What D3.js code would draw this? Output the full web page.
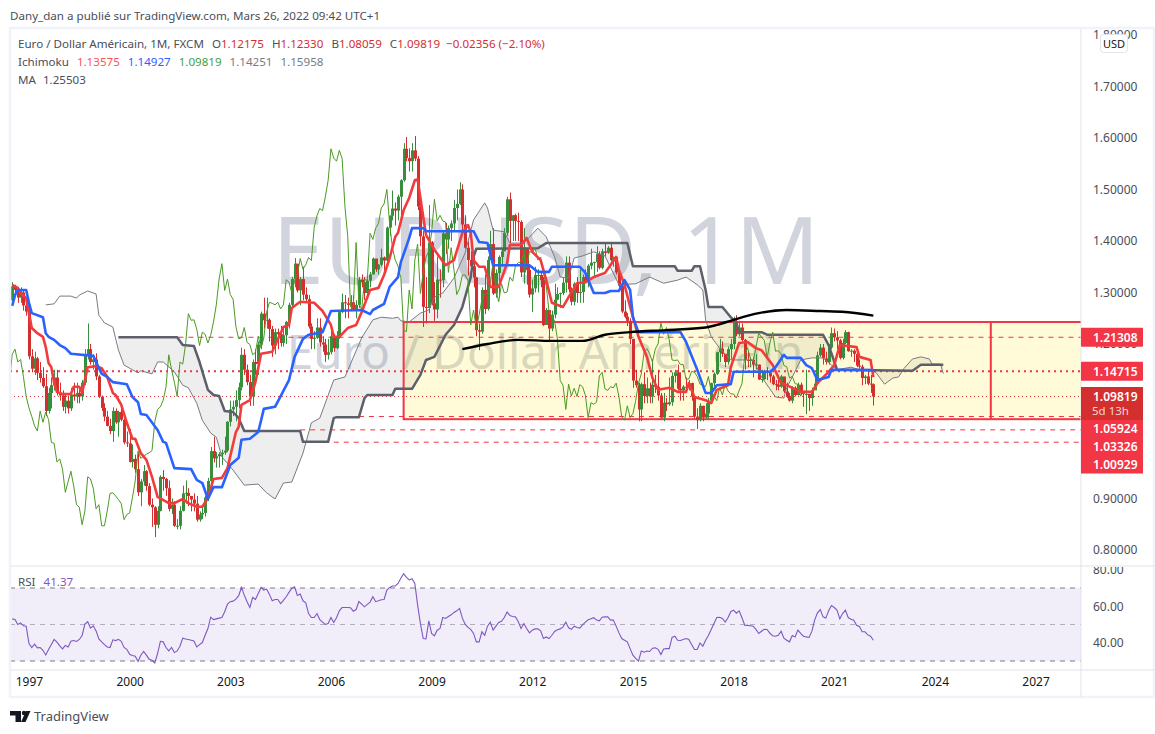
<!DOCTYPE html>
<html>
<head>
<meta charset="utf-8">
<style>
html,body{margin:0;padding:0;background:#fff}
svg{display:block}
text{font-family:"Noto Sans",sans-serif}
</style>
<script src="https://cdn.jsdelivr.net/npm/d3@7/dist/d3.min.js"></script>
</head>
<body>
<svg id="chart" width="1155" height="734"></svg>
<script>
// monthly bars, Jul 1996 -> Mar 2022, month index 0 = Jul 1996
const closes = [
1.312,1.305,1.290,1.300,1.275,1.263,
1.176,1.152,1.172,1.144,1.134,1.118,1.070,1.105,1.120,1.135,1.105,1.100,
1.078,1.090,1.075,1.102,1.098,1.105,1.098,1.125,1.180,1.190,1.165,1.170,
1.137,1.098,1.076,1.059,1.041,1.031,1.070,1.048,1.068,1.053,1.009,1.007,
.971,.977,.957,.912,.933,.953,.924,.888,.883,.849,.876,.942,
.938,.920,.880,.888,.847,.847,.876,.910,.911,.905,.898,.890,
.859,.869,.872,.902,.934,.992,.978,.982,.986,.989,.993,1.049,
1.073,1.078,1.091,1.116,1.179,1.150,1.126,1.098,1.165,1.161,1.199,1.259,
1.246,1.247,1.229,1.197,1.223,1.219,1.202,1.217,1.243,1.276,1.326,1.356,
1.304,1.326,1.296,1.287,1.234,1.210,1.212,1.232,1.203,1.199,1.179,1.184,
1.215,1.192,1.212,1.262,1.281,1.279,1.276,1.281,1.268,1.276,1.325,1.320,
1.299,1.323,1.335,1.366,1.345,1.354,1.368,1.362,1.426,1.449,1.463,1.459,
1.486,1.518,1.579,1.561,1.555,1.576,1.560,1.467,1.409,1.272,1.270,1.397,
1.279,1.267,1.325,1.324,1.415,1.403,1.425,1.434,1.464,1.472,1.500,1.432,
1.387,1.363,1.351,1.329,1.227,1.224,1.305,1.268,1.363,1.394,1.298,1.338,
1.369,1.380,1.416,1.481,1.439,1.450,1.439,1.437,1.339,1.387,1.344,1.296,
1.308,1.334,1.334,1.324,1.237,1.266,1.230,1.257,1.286,1.297,1.299,1.319,
1.358,1.306,1.282,1.317,1.299,1.301,1.330,1.322,1.352,1.358,1.359,1.375,
1.348,1.380,1.377,1.387,1.363,1.369,1.339,1.313,1.263,1.253,1.245,1.210,
1.129,1.120,1.073,1.122,1.099,1.114,1.098,1.121,1.117,1.100,1.057,1.086,
1.083,1.087,1.138,1.145,1.113,1.110,1.117,1.115,1.124,1.098,1.059,1.052,
1.080,1.057,1.065,1.090,1.124,1.142,1.184,1.191,1.181,1.165,1.190,1.200,
1.241,1.219,1.232,1.208,1.169,1.168,1.169,1.160,1.160,1.131,1.132,1.147,
1.145,1.137,1.122,1.121,1.117,1.137,1.108,1.099,1.090,1.115,1.101,1.121,
1.109,1.103,1.103,1.095,1.110,1.123,1.178,1.193,1.172,1.165,1.193,1.221,
1.213,1.207,1.173,1.202,1.223,1.186,1.187,1.181,1.158,1.156,1.134,1.137,
1.123,1.12175,1.09819];
const highs = [
1.320,1.315,1.310,1.310,1.305,1.280,
1.268,1.190,1.185,1.175,1.165,1.155,1.142,1.115,1.135,1.150,1.150,1.125,
1.110,1.105,1.100,1.115,1.125,1.125,1.115,1.130,1.190,1.240,1.200,1.180,
1.182,1.140,1.100,1.085,1.070,1.055,1.077,1.075,1.070,1.085,1.055,1.030,
1.035,1.005,.985,.990,.938,.965,.955,.930,.900,.885,.885,.945,
.955,.940,.935,.900,.895,.860,.885,.925,.935,.920,.905,.910,
.905,.875,.885,.905,.940,1.000,1.020,.990,.990,.995,1.020,1.050,
1.090,1.090,1.110,1.125,1.193,1.190,1.160,1.140,1.170,1.190,1.205,1.263,
1.290,1.290,1.250,1.235,1.230,1.230,1.235,1.230,1.245,1.280,1.330,1.367,
1.355,1.330,1.350,1.310,1.295,1.240,1.225,1.250,1.250,1.215,1.210,1.210,
1.230,1.220,1.225,1.265,1.298,1.295,1.290,1.295,1.295,1.285,1.330,1.335,
1.330,1.330,1.340,1.368,1.360,1.355,1.385,1.370,1.428,1.450,1.498,1.475,
1.490,1.520,1.590,1.602,1.580,1.590,1.604,1.565,1.480,1.420,1.330,1.470,
1.400,1.320,1.370,1.345,1.420,1.435,1.430,1.440,1.480,1.500,1.514,1.510,
1.450,1.400,1.380,1.370,1.330,1.240,1.310,1.335,1.370,1.420,1.425,1.345,
1.372,1.385,1.425,1.486,1.494,1.450,1.453,1.455,1.440,1.425,1.385,1.350,
1.325,1.350,1.345,1.340,1.330,1.270,1.260,1.265,1.317,1.310,1.300,1.330,
1.370,1.370,1.310,1.320,1.330,1.345,1.335,1.345,1.355,1.385,1.360,1.390,
1.380,1.385,1.395,1.390,1.395,1.370,1.370,1.340,1.320,1.285,1.260,1.250,
1.210,1.150,1.125,1.125,1.145,1.135,1.125,1.170,1.140,1.150,1.105,1.105,
1.095,1.135,1.145,1.150,1.160,1.145,1.120,1.135,1.130,1.125,1.100,1.075,
1.085,1.080,1.085,1.095,1.125,1.145,1.185,1.210,1.205,1.180,1.195,1.210,
1.253,1.256,1.245,1.240,1.210,1.185,1.175,1.175,1.180,1.160,1.150,1.150,
1.155,1.148,1.140,1.130,1.130,1.140,1.130,1.125,1.105,1.118,1.118,1.125,
1.125,1.105,1.150,1.100,1.115,1.140,1.185,1.200,1.200,1.185,1.200,1.232,
1.230,1.225,1.210,1.210,1.227,1.224,1.190,1.190,1.180,1.170,1.160,1.140,
1.149,1.140,1.1233];
const lows = [
1.280,1.295,1.280,1.280,1.265,1.255,
1.170,1.145,1.140,1.130,1.125,1.115,1.060,1.065,1.075,1.110,1.100,1.090,
1.070,1.065,1.065,1.070,1.090,1.085,1.085,1.090,1.120,1.170,1.160,1.150,
1.130,1.095,1.070,1.050,1.040,1.025,1.010,1.045,1.020,1.050,1.005,1.000,
.970,.960,.950,.905,.885,.925,.915,.885,.845,.825,.842,.875,
.915,.905,.875,.870,.845,.840,.840,.875,.890,.885,.875,.875,
.855,.855,.860,.865,.895,.930,.970,.960,.960,.965,.985,.990,
1.040,1.060,1.050,1.075,1.110,1.140,1.120,1.080,1.080,1.140,1.140,1.190,
1.230,1.230,1.205,1.175,1.180,1.190,1.195,1.195,1.200,1.230,1.270,1.310,
1.300,1.275,1.285,1.280,1.230,1.190,1.190,1.210,1.195,1.185,1.165,1.170,
1.180,1.185,1.190,1.210,1.260,1.250,1.250,1.265,1.265,1.250,1.270,1.310,
1.285,1.295,1.310,1.335,1.340,1.335,1.350,1.340,1.360,1.410,1.440,1.430,
1.440,1.450,1.515,1.555,1.535,1.535,1.555,1.460,1.390,1.233,1.240,1.260,
1.275,1.245,1.250,1.290,1.310,1.375,1.385,1.400,1.420,1.440,1.470,1.420,
1.385,1.333,1.333,1.310,1.215,1.188,1.220,1.258,1.265,1.370,1.295,1.290,
1.290,1.350,1.380,1.410,1.395,1.400,1.400,1.400,1.330,1.317,1.315,1.290,
1.262,1.300,1.300,1.310,1.235,1.240,1.205,1.225,1.250,1.285,1.270,1.295,
1.300,1.300,1.275,1.275,1.280,1.280,1.280,1.320,1.310,1.345,1.330,1.340,
1.345,1.345,1.370,1.375,1.360,1.350,1.335,1.310,1.260,1.250,1.235,1.200,
1.115,1.115,1.050,1.050,1.085,1.085,1.085,1.085,1.105,1.090,1.055,1.050,
1.070,1.080,1.080,1.125,1.110,1.090,1.090,1.110,1.110,1.090,1.055,1.035,
1.050,1.050,1.055,1.055,1.085,1.115,1.140,1.165,1.175,1.155,1.160,1.170,
1.190,1.215,1.215,1.205,1.150,1.155,1.155,1.135,1.150,1.130,1.125,1.130,
1.130,1.125,1.120,1.110,1.110,1.115,1.105,1.095,1.088,1.085,1.098,1.100,
1.100,1.078,1.064,1.070,1.080,1.115,1.120,1.175,1.160,1.160,1.160,1.190,
1.205,1.190,1.170,1.170,1.200,1.185,1.175,1.165,1.155,1.152,1.120,1.122,
1.120,1.105,1.08059];
const firstOpen = 1.285;

// [month index, price] knots
const tenkan = [[0,1.315],[2,1.309],[3,1.299],[5,1.289],[6,1.26],[7,1.231],[9,1.221],[11,1.214],[12,1.194],[13,1.163],[14,1.155],[15,1.124],[16,1.107],[18,1.103],[21,1.103],[22,1.117],[24,1.117],[25,1.105],[27,1.155],[30,1.157],[32,1.153],[34,1.136],[36,1.105],[37,1.101],[39,1.082],[41,1.047],[43,1.016],[44,1.016],[46,.988],[48,.975],[50,.942],[52,.903],[56,.891],[58,.891],[61,.899],[63,.891],[66,.884],[68,.884],[70,.901],[72,.938],[75,.94],[77,.959],[80,1.029],[81,1.039],[82,1.082],[85,1.091],[87,1.126],[89,1.181],[93,1.185],[97,1.233],[99,1.237],[100,1.27],[103,1.282],[108,1.28],[111,1.264],[114,1.237],[115,1.214],[117,1.214],[120,1.231],[123,1.237],[125,1.262],[128,1.305],[131,1.309],[133,1.334],[135,1.367],[137,1.408],[138,1.416],[140,1.46],[142,1.484],[144,1.518],[145,1.52],[147,1.447],[148,1.412],[151,1.383],[155,1.353],[158,1.363],[161,1.416],[163,1.431],[164,1.416],[165,1.363],[167,1.35],[169,1.35],[171,1.311],[174,1.311],[177,1.357],[178,1.392],[182,1.392],[184,1.406],[186,1.379],[189,1.363],[191,1.324],[193,1.28],[197,1.272],[199,1.291],[202,1.318],[205,1.32],[208,1.33],[212,1.338],[216,1.369],[217,1.344],[219,1.315],[221,1.272],[224,1.214],[227,1.175],[229,1.134],[231,1.111],[235,1.115],[238,1.107],[241,1.107],[242,1.124],[244,1.097],[248,1.091],[250,1.085],[252,1.111],[256,1.12],[257,1.155],[260,1.202],[263,1.204],[266,1.192],[268,1.188],[272,1.159],[275,1.124],[277,1.12],[282,1.107],[286,1.107],[288,1.124],[292,1.146],[294,1.159],[296,1.198],[302,1.194],[303,1.175],[307,1.169],[308,1.13575]];
const kijun = [[0,1.274],[1,1.295],[2,1.305],[5,1.305],[6,1.28],[7,1.26],[11,1.252],[12,1.221],[13,1.214],[15,1.208],[17,1.198],[19,1.192],[21,1.181],[29,1.177],[30,1.165],[32,1.142],[34,1.136],[36,1.126],[41,1.122],[43,1.097],[45,1.087],[46,1.064],[48,1.062],[52,1.033],[54,1.01],[55,1.008],[58,.959],[64,.957],[66,.936],[68,.93],[70,.899],[72,.922],[75,.922],[78,.965],[81,.979],[82,1.014],[85,1.016],[88,1.029],[90,1.074],[94,1.078],[99,1.13],[101,1.175],[104,1.21],[106,1.218],[111,1.223],[114,1.264],[125,1.266],[128,1.258],[129,1.266],[133,1.278],[135,1.311],[138,1.33],[139,1.359],[141,1.39],[142,1.406],[143,1.425],[147,1.425],[148,1.419],[165,1.419],[167,1.398],[170,1.396],[172,1.353],[185,1.353],[188,1.34],[192,1.34],[193,1.35],[203,1.35],[205,1.338],[208,1.299],[212,1.299],[214,1.303],[217,1.303],[219,1.324],[221,1.305],[222,1.252],[224,1.223],[239,1.223],[241,1.204],[245,1.15],[248,1.105],[250,1.105],[252,1.12],[257,1.122],[258,1.146],[271,1.146],[273,1.155],[276,1.179],[277,1.173],[282,1.173],[284,1.159],[286,1.153],[288,1.13],[292,1.136],[293,1.15],[308,1.14927]];
const spanA = [[12,1.276],[15,1.278],[17,1.293],[21,1.293],[23,1.289],[24,1.295],[27,1.303],[30,1.297],[31,1.256],[33,1.241],[36,1.233],[38,1.188],[40,1.159],[45,1.144],[46,1.148],[50,1.142],[52,1.165],[54,1.165],[58,1.146],[61,1.12],[63,1.115],[66,1.085],[68,1.052],[71,1.027],[73,1.019],[75,.981],[79,.955],[83,.926],[88,.928],[91,.911],[94,.899],[97,.93],[100,.932],[104,.988],[107,1.047],[110,1.056],[115,1.13],[119,1.136],[125,1.212],[129,1.247],[132,1.252],[136,1.25],[138,1.252],[139,1.245],[142,1.243],[146,1.26],[149,1.266],[151,1.291],[154,1.299],[158,1.328],[162,1.377],[165,1.441],[169,1.474],[170,1.464],[172,1.421],[176,1.418],[178,1.396],[183,1.396],[188,1.425],[191,1.408],[194,1.369],[196,1.33],[199,1.328],[201,1.367],[204,1.371],[208,1.379],[212,1.371],[217,1.315],[223,1.317],[228,1.33],[233,1.318],[238,1.324],[241,1.33],[245,1.315],[247,1.305],[248,1.247],[250,1.214],[253,1.192],[257,1.169],[261,1.169],[265,1.169],[268,1.136],[272,1.105],[273,1.097],[276,1.095],[277,1.115],[279,1.136],[282,1.169],[286,1.173],[290,1.173],[293,1.159],[295,1.15],[300,1.155],[303,1.15],[307,1.15],[309,1.144],[312,1.122],[315,1.134],[317,1.136],[319,1.153],[322,1.171],[325,1.175],[328,1.171],[329,1.161],[332,1.161],[333,1.14251]];
const spanB = [[38,1.213],[59,1.213],[61,1.198],[65,1.196],[67,1.165],[70,1.111],[72,1.101],[74,1.099],[76,1.07],[79,1.068],[81,1.056],[83,1.031],[103,1.031],[104,1.01],[113,1.01],[115,1.056],[116,1.058],[124,1.058],[126,1.095],[127,1.101],[136,1.101],[137,1.113],[143,1.113],[146,1.14],[148,1.169],[151,1.175],[155,1.218],[158,1.237],[161,1.272],[164,1.33],[165,1.369],[166,1.385],[188,1.386],[191,1.396],[220,1.396],[222,1.351],[237,1.351],[238,1.342],[243,1.342],[244,1.351],[246,1.351],[248,1.305],[249,1.272],[254,1.272],[257,1.252],[259,1.241],[260,1.223],[268,1.223],[270,1.218],[290,1.218],[292,1.198],[295,1.15],[322,1.148],[325,1.15958],[333,1.15958]];
const maLine = [[161,1.19],[170,1.2],[181,1.208],[193,1.206],[204,1.206],[212,1.218],[221,1.223],[234,1.227],[248,1.232],[252,1.237],[258,1.247],[267,1.26],[277,1.266],[289,1.264],[298,1.262],[308,1.25503]];

const rsi = [
53.1,52.7,50,50.9,49.3,49.1,39.6,37.4,39.2,37.2,37.4,35.9,
33.3,36.3,39,41.8,40.3,38.3,36.6,38.5,37.7,40.8,41.2,40.7,
41.8,44,50.2,51.5,48,49.3,46.5,42.1,40.5,39,37.7,37.4,
41.6,41.2,41.9,40.8,37.4,36.4,33.7,33,32.6,29.7,33.2,35.3,
33.2,31,30.4,28.9,34.1,40.8,40.5,37.4,35.5,37.4,34.6,35.5,
38.1,42.5,42.1,41.8,41.4,41,37.7,39,40.1,44.1,47.8,54,
52.7,53.1,53.5,53.8,57,61.2,62.5,62.8,63.9,65.8,70.3,66.1,
62.5,59.3,64.8,63.7,67,70.3,68.9,69.4,66.5,63,63.7,63.7,
61.5,63.2,65.2,67.6,69.8,70.7,65.9,66.7,63,61.9,56,53.8,
53.8,56,52.7,51.3,50,50.5,53.8,51.1,53.7,57.5,59.3,59.3,
59.3,59.2,57.3,58.2,62.6,61.2,59.7,61,62.3,65.2,62.5,63,
63.6,63.7,68.9,70.3,71.1,71.1,72.5,75.3,77.8,75.8,74.4,75.1,
72.5,60.6,50.5,42.3,42.1,52,45.1,43.8,46.9,47.8,53.8,53.3,
54.4,55.3,56.6,57.5,58.8,53.5,50.2,48.4,47.3,45.1,40.5,40.5,
46,44.1,49.1,51.3,46.9,49.1,51.1,51.8,53.8,56.8,54.9,54.4,
54.2,51.5,47.8,50.5,47.8,45.4,46.9,47.6,47.6,46.5,42.3,43.2,
42.3,44.1,46.2,47.1,47.6,48.7,51.3,48.2,47.4,49.1,48.4,48,
49.8,51.3,52.6,53.1,53.7,52.4,52,54,54.2,54.2,52.4,52.4,
49.1,45.4,42.3,41.4,40.5,36.8,33.2,31.5,29.9,35.5,34.8,35.5,
35.2,37,37.2,36.4,33.5,36.6,36.8,36.8,42.9,43.6,41.4,41.2,
41.8,42.3,41.8,39,36.3,36.3,39.9,38.1,41.4,44,47.3,50.5,
53.8,54,53.3,51.3,53.7,57,57.9,56.2,57.5,53.7,49.6,49.5,
49.3,49.1,47.3,45.1,46.3,47.4,47.3,45.2,43.8,43.6,44.1,46.3,
42.5,41.4,40.5,44,43.2,46.9,45.1,43.6,43.2,42.9,46.2,52.4,
56.4,58.2,54.2,53.5,57.5,60.4,59.3,57.9,53.1,56,57.9,53.8,
52.9,52.4,49.6,48.9,46,46,44.3,43.6,41.37];

const priceTicks = [1.8,1.7,1.6,1.5,1.4,1.3,1.2,1.1,1.0,.9,.8];
const rsiTicks = [80,60,40];
const rsiLevels = [70,50,30];
const yearLabels = [1997,2000,2003,2006,2009,2012,2015,2018,2021,2024,2027];

// [price, month index where the dashes start]
const levelsDashed = [[1.21308,38],[1.05924,124],[1.03326,103],[1.00929,115]];
const levelThick = 1.14715, levelLast = 1.09819;
const rangeBox = {i0:140, i1:350, top:1.2427, bottom:1.054};
const priceTags = [[1.21308,"#f23645"],[1.14715,"#f23645"]];
const stackTags = [1.05924,1.03326,1.00929];

const RED="#f23645", GRN="#388e3c", DRED="#d32f2f", BLUE="#2962ff";
const L=10, R=1081, MAIN_B=566, RSI_B=670, FR_B=697, FR_R=1154;

const x = d3.scaleLinear().domain([0,100]).range([12.2,291.8]);
const y = d3.scaleLinear().domain([.8,1.6]).range([550,138]);
const yR = d3.scaleLinear().domain([30,70]).range([661,588]);
const monthOfYear = yr => (yr-1996)*12-6;

const svg = d3.select("#chart");
const defs = svg.append("defs");
defs.append("clipPath").attr("id","mainClip").append("rect").attr("x",L).attr("y",29).attr("width",R-L).attr("height",MAIN_B-29);
defs.append("clipPath").attr("id","rsiClip").append("rect").attr("x",L).attr("y",MAIN_B).attr("width",R-L).attr("height",RSI_B-MAIN_B);
defs.append("clipPath").attr("id","rsiAxisClip").append("rect").attr("x",R).attr("y",MAIN_B+1).attr("width",72).attr("height",RSI_B-MAIN_B);

// header
svg.append("text").attr("x",10).attr("y",20).attr("font-size",11.6).attr("fill","#4a4e59")
  .text("Dany_dan a publié sur TradingView.com, Mars 26, 2022 09:42 UTC+1");

// watermark
svg.append("text").attr("x",546).attr("y",284).attr("text-anchor","middle").attr("font-size",93).attr("fill","#d1d4dc").text("EURUSD, 1M");
svg.append("text").attr("x",545).attr("y",369).attr("text-anchor","middle").attr("font-size",47.5).attr("fill","#d1d4dc").text("Euro / Dollar Américain");

const main = svg.append("g").attr("clip-path","url(#mainClip)");

// cloud
const line = d3.line().x(d=>x(d[0])).y(d=>y(d[1]));
const cloudA = spanA.filter(d=>d[0]>=38);
main.append("path").attr("fill","rgba(120,123,134,.13)")
  .attr("d", line(cloudA)+"L"+line(spanB.slice().reverse()).slice(1)+"Z");

// yellow range box
main.append("rect").attr("x",x(rangeBox.i0)).attr("y",y(rangeBox.top))
  .attr("width",R+5-x(rangeBox.i0)).attr("height",y(rangeBox.bottom)-y(rangeBox.top))
  .attr("fill","rgba(255,235,59,.2)").attr("stroke",RED).attr("stroke-width",2);
main.append("line").attr("x1",x(rangeBox.i1)).attr("x2",x(rangeBox.i1)).attr("y1",y(rangeBox.top)).attr("y2",y(rangeBox.bottom))
  .attr("stroke",RED).attr("stroke-width",2);

// price levels
main.selectAll(".lv").data(levelsDashed).enter().append("line").attr("class","lv")
  .attr("x1",d=>x(d[1])).attr("x2",R).attr("y1",d=>y(d[0])).attr("y2",d=>y(d[0]))
  .attr("stroke",RED).attr("stroke-dasharray","5,5");
main.append("line").attr("x1",L).attr("x2",R).attr("y1",y(levelThick)).attr("y2",y(levelThick))
  .attr("stroke",RED).attr("stroke-width",2).attr("stroke-dasharray","2,4");
main.append("line").attr("x1",L).attr("x2",R).attr("y1",y(levelLast)).attr("y2",y(levelLast))
  .attr("stroke",DRED).attr("stroke-dasharray","1,3");

// candles
const opens = closes.map((c,i)=> i ? closes[i-1] : firstOpen);
const candle = main.selectAll(".c").data(closes).enter().append("g").attr("class","c")
  .attr("fill",(c,i)=> c>=opens[i] ? GRN : DRED);
candle.append("rect").attr("x",(c,i)=>Math.round(x(i))).attr("width",1)
  .attr("y",(c,i)=>y(highs[i])).attr("height",(c,i)=>y(lows[i])-y(highs[i]));
candle.append("rect").attr("x",(c,i)=>Math.round(x(i))-1).attr("width",3)
  .attr("y",(c,i)=>y(Math.max(c,opens[i])))
  .attr("height",(c,i)=>Math.max(1,Math.abs(y(c)-y(opens[i]))));

// ichimoku
const chikou = closes.map((c,i)=>[i-26,c]).slice(25);
const drawLine = (data,col,w) => main.append("path").datum(data).attr("fill","none").attr("stroke",col).attr("stroke-width",w).attr("stroke-linejoin","round").attr("d",line);
drawLine(spanA,"#787b86",1);
drawLine(spanB,"#5d606b",2.5);
drawLine(chikou,"#4b9a22",1);
drawLine(tenkan,"#f23c3c",2.6);
drawLine(kijun,BLUE,2.6);
main.append("path").datum(maLine).attr("fill","none").attr("stroke","#000").attr("stroke-width",2.4)
  .attr("d",d3.line().x(d=>x(d[0])).y(d=>y(d[1])).curve(d3.curveMonotoneX));

// rsi pane
const rsiG = svg.append("g").attr("clip-path","url(#rsiClip)");
rsiG.append("rect").attr("x",L).attr("width",R-L).attr("y",yR(70)).attr("height",yR(30)-yR(70)).attr("fill","rgba(126,87,194,.1)");
rsiG.selectAll(".rl").data(rsiLevels).enter().append("line").attr("class","rl")
  .attr("x1",L).attr("x2",R).attr("y1",d=>yR(d)).attr("y2",d=>yR(d))
  .attr("stroke",d=>d==50?"#b2aebf":"#787b86").attr("stroke-dasharray","5,5");
rsiG.append("path").datum(rsi).attr("fill","none").attr("stroke","#7e57c2").attr("stroke-width",1.1)
  .attr("d",d3.line().x((d,i)=>x(i)).y(d=>yR(d)));

// frame and pane lines
const fr = "#e0e3eb";
svg.append("rect").attr("x",10).attr("y",28).attr("width",FR_R-10).attr("height",FR_B-28)
  .attr("fill","none").attr("stroke","#f0f3fa").attr("stroke-width",2.5);
svg.append("line").attr("x1",R).attr("x2",R).attr("y1",29).attr("y2",FR_B).attr("stroke",fr);
svg.append("line").attr("x1",L).attr("x2",FR_R).attr("y1",MAIN_B).attr("y2",MAIN_B).attr("stroke",fr);
svg.append("line").attr("x1",L).attr("x2",FR_R).attr("y1",RSI_B).attr("y2",RSI_B).attr("stroke",fr);

// axes
const yAxis = d3.axisRight(y).tickValues(priceTicks).tickFormat(d3.format(".5f")).tickSize(0).tickPadding(12);
const ya = svg.append("g").attr("transform","translate("+R+",0)").call(yAxis);
ya.select(".domain").remove();
ya.selectAll("text").attr("font-size",12).attr("fill","#4a4e59").style("font-family",'"Noto Sans",sans-serif');

const rAxis = d3.axisRight(yR).tickValues(rsiTicks).tickFormat(d3.format(".2f")).tickSize(0).tickPadding(12);
const ra = svg.append("g").attr("clip-path","url(#rsiAxisClip)").append("g").attr("transform","translate("+R+",0)").call(rAxis);
ra.select(".domain").remove();
ra.selectAll("text").attr("font-size",12).attr("fill","#4a4e59").style("font-family",'"Noto Sans",sans-serif');

const xAxis = d3.axisBottom(x).tickValues(yearLabels.map(monthOfYear)).tickFormat((d,i)=>yearLabels[i]).tickSize(0).tickPadding(7);
const xa = svg.append("g").attr("transform","translate(0,"+RSI_B+")").call(xAxis);
xa.select(".domain").remove();
xa.selectAll("text").attr("font-size",12).attr("fill","#131722").style("font-family",'"Noto Sans",sans-serif');

// price tags on the axis
const tagX = R, tagW = 62;
priceTags.forEach(t=>{
  const py = y(t[0]);
  svg.append("rect").attr("x",tagX).attr("y",py-9.5).attr("width",tagW).attr("height",19).attr("rx",1).attr("fill",t[1]);
  svg.append("text").attr("x",tagX+12).attr("y",py+4.5).attr("font-size",12).attr("fill","#fff").attr("font-weight",600).text(d3.format(".5f")(t[0]));
});
stackTags.forEach((v,i)=>{
  svg.append("rect").attr("x",tagX).attr("y",419+i*18).attr("width",tagW).attr("height",18.5).attr("fill",RED);
  svg.append("text").attr("x",tagX+12).attr("y",432.5+i*18).attr("font-size",12).attr("fill","#fff").attr("font-weight",600).text(d3.format(".5f")(v));
});
svg.append("rect").attr("x",tagX).attr("y",387).attr("width",tagW).attr("height",33).attr("fill",DRED);
svg.append("text").attr("x",tagX+12).attr("y",401).attr("font-size",12).attr("fill","#fff").attr("font-weight",600).text(d3.format(".5f")(levelLast));
svg.append("text").attr("x",tagX+11).attr("y",415).attr("font-size",11.5).attr("fill","#fff").attr("fill-opacity",.8).text("5d 13h");

// USD badge
svg.append("rect").attr("x",1100.5).attr("y",34.5).attr("width",27).attr("height",18).attr("rx",3).attr("fill","#fff").attr("stroke",fr);
svg.append("text").attr("x",1114).attr("y",48).attr("text-anchor","middle").attr("font-size",11).attr("fill","#131722").text("USD");

// legends
function legend(yy, parts){
  const t = svg.append("text").attr("x",18).attr("y",yy).attr("font-size",11.6).attr("fill","#4a4e59");
  parts.forEach(p=>t.append("tspan").attr("dx",p[2]||0).attr("fill",p[1]||null).text(p[0]));
}
legend(48,[["Euro / Dollar Américain, 1M, FXCM"],["O",null,8],["1.12175",DRED],["H",null,8],["1.12330",DRED],["B",null,8],["1.08059",DRED],["C",null,8],["1.09819",DRED],["−0.02356 (−2.10%)",DRED,6]]);
legend(66,[["Ichimoku"],["1.13575","#ff5252",8],["1.14927",BLUE,8],["1.09819","#43a047",8],["1.14251","#787b86",8],["1.15958","#787b86",8]]);
legend(84,[["MA"],["1.25503","#4a4e59",7]]);
const rl = svg.append("text").attr("x",18).attr("y",586).attr("font-size",11.6).attr("fill","#4a4e59");
rl.append("tspan").text("RSI");
rl.append("tspan").attr("dx",8).attr("fill","#7e57c2").text("41.37");

// logo
const logo = svg.append("g").attr("fill","#131722");
logo.append("path").attr("d","M10 711H21V722H15.5V715.5H10Z");
logo.append("circle").attr("cx",24).attr("cy",713).attr("r",2.2);
logo.append("path").attr("d","M26 711H30.5L25.5 722H21Z");
svg.append("text").attr("x",34).attr("y",721).attr("font-size",13).attr("fill","#4a4e59").text("TradingView");
</script>
</body>
</html>
